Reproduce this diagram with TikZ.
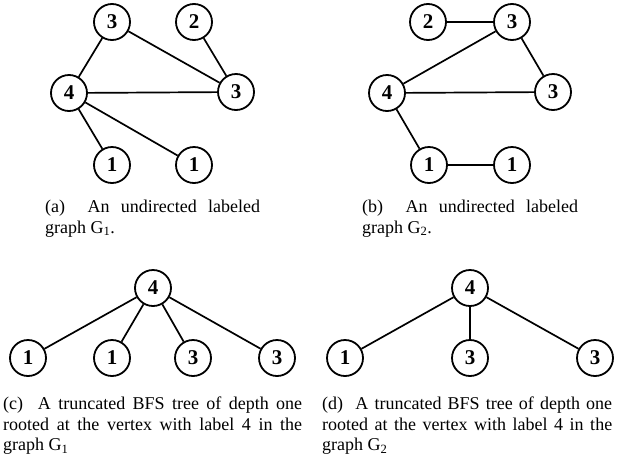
\documentclass[tikz,border=0pt]{standalone}
\usepackage{fontspec}
\setmainfont{Liberation Serif}
\begin{document}
\begin{tikzpicture}[x=1pt,y=-1pt,
  vert/.style={circle,draw,line width=1.8pt,minimum size=36pt,inner sep=0pt,font=\fontsize{21}{21}\selectfont\bfseries},
  edge/.style={line width=1.7pt},
  captext/.style={anchor=north west,inner sep=0pt,align=justify,font=\fontsize{18}{20.5}\selectfont}]
\useasboundingbox (0,0) rectangle (620,461);
% (a)
\node[vert] (a3t) at (112,22) {3};
\node[vert] (a2) at (194,22) {2};
\node[vert] (a4) at (69,93) {4};
\node[vert] (a3r) at (236,92) {3};
\node[vert] (a1l) at (112,165) {1};
\node[vert] (a1r) at (194,165) {1};
\draw[edge] (a3t) -- (a4);
\draw[edge] (a3t) -- (a3r);
\draw[edge] (a2) -- (a3r);
\draw[edge] (a4) -- (a3r);
\draw[edge] (a4) -- (a1l);
\draw[edge] (a4) -- (a1r);
\node[captext,text width=215pt] (capa) at (45,200) {(a)~ An undirected labeled\linebreak graph G\textsubscript{1}.};
% (b)
\node[vert] (b2) at (428,22) {2};
\node[vert] (b3t) at (512,22) {3};
\node[vert] (b4) at (387,93) {4};
\node[vert] (b3r) at (553,92) {3};
\node[vert] (b1l) at (429,165) {1};
\node[vert] (b1r) at (512,165) {1};
\draw[edge] (b2) -- (b3t);
\draw[edge] (b3t) -- (b4);
\draw[edge] (b3t) -- (b3r);
\draw[edge] (b4) -- (b3r);
\draw[edge] (b4) -- (b1l);
\draw[edge] (b1l) -- (b1r);
\node[captext,text width=216pt] (capb) at (362,200) {(b)~ An undirected labeled\linebreak graph G\textsubscript{2}.};
% (c)
\node[vert] (c4) at (153,288) {4};
\node[vert] (c1a) at (28,358) {1};
\node[vert] (c1b) at (112,358) {1};
\node[vert] (c3a) at (193,358) {3};
\node[vert] (c3b) at (277,358) {3};
\draw[edge] (c4) -- (c1a);
\draw[edge] (c4) -- (c1b);
\draw[edge] (c4) -- (c3a);
\draw[edge] (c4) -- (c3b);
\node[captext,text width=299pt] (capc) at (3,397) {(c)~ A truncated BFS tree of depth one\linebreak rooted at the vertex with label 4 in the\linebreak graph G\textsubscript{1}};
% (d)
\node[vert] (d4) at (470,288) {4};
\node[vert] (d1) at (345,358) {1};
\node[vert] (d3a) at (470,358) {3};
\node[vert] (d3b) at (595,358) {3};
\draw[edge] (d4) -- (d1);
\draw[edge] (d4) -- (d3a);
\draw[edge] (d4) -- (d3b);
\node[captext,text width=290pt] (capd) at (322,397) {(d)~ A truncated BFS tree of depth one\linebreak rooted at the vertex with label 4 in the\linebreak graph G\textsubscript{2}};
\end{tikzpicture}
\end{document}
